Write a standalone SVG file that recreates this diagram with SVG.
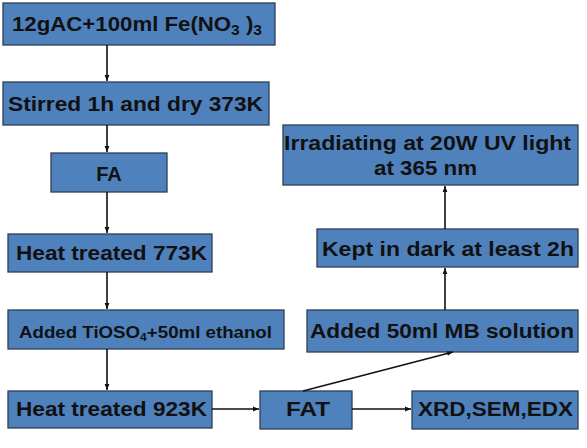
<svg xmlns="http://www.w3.org/2000/svg" width="587" height="448" viewBox="0 0 587 448">
<defs>
<marker id="ah" viewBox="0 0 10 10" refX="10" refY="5" markerWidth="6" markerHeight="6" orient="auto" markerUnits="userSpaceOnUse">
<path d="M0,1 L10,5 L0,9 z" fill="#111"/>
</marker>
<style>
.box{fill:#4F81BD;stroke:#2d3f55;stroke-width:1.3}
.t{font-family:"Liberation Sans",Arial,sans-serif;font-weight:bold;font-size:20px;fill:#111}
.s{font-size:14px}
.c{fill:none;stroke:#111;stroke-width:1.6;marker-end:url(#ah)}
</style>
</defs>
<rect width="587" height="448" fill="#fff"/>
<g id="n1"><rect class="box" x="3" y="3" width="272" height="42"/>
<text class="t" x="12" y="31" textLength="250" lengthAdjust="spacingAndGlyphs">12gAC+100ml Fe(NO<tspan class="s" dy="4">3</tspan><tspan dy="-4"> )</tspan><tspan class="s" dy="4">3</tspan></text></g>
<g id="n2"><rect class="box" x="3" y="82" width="266" height="43"/>
<text class="t" x="8" y="111" textLength="255" lengthAdjust="spacingAndGlyphs">Stirred 1h and dry 373K</text></g>
<g id="n3"><rect class="box" x="51" y="153" width="116" height="39"/>
<text class="t" x="109" y="181" text-anchor="middle">FA</text></g>
<g id="n4"><rect class="box" x="8" y="234" width="204" height="38"/>
<text class="t" x="16" y="260" textLength="191" lengthAdjust="spacingAndGlyphs">Heat treated 773K</text></g>
<g id="n5"><rect class="box" x="8" y="310" width="276" height="39"/>
<text class="t" style="font-size:17px" x="19" y="338" textLength="253" lengthAdjust="spacingAndGlyphs">Added TiOSO<tspan style="font-size:11px" dy="3">4</tspan><tspan dy="-3">+50ml  ethanol</tspan></text></g>
<g id="n6"><rect class="box" x="8" y="391" width="204" height="37"/>
<text class="t" x="16" y="416" textLength="191" lengthAdjust="spacingAndGlyphs">Heat treated 923K</text></g>
<g id="n7"><rect class="box" x="260" y="391" width="92" height="38"/>
<text class="t" x="286" y="416" textLength="44" lengthAdjust="spacingAndGlyphs">FAT</text></g>
<g id="n8"><rect class="box" x="412" y="391" width="166" height="38"/>
<text class="t" x="418" y="416" textLength="155" lengthAdjust="spacingAndGlyphs">XRD,SEM,EDX</text></g>
<g id="n9"><rect class="box" x="307" y="310" width="271" height="42"/>
<text class="t" x="310" y="338" textLength="264" lengthAdjust="spacingAndGlyphs">Added 50ml MB solution</text></g>
<g id="n10"><rect class="box" x="317" y="229" width="261" height="38"/>
<text class="t" x="322" y="256" textLength="252" lengthAdjust="spacingAndGlyphs">Kept in dark at least 2h</text></g>
<g id="n11"><rect class="box" x="283" y="125" width="295" height="60"/>
<text class="t" x="284" y="150" textLength="287" lengthAdjust="spacingAndGlyphs">Irradiating at 20W UV light</text>
<text class="t" x="374" y="175" textLength="103" lengthAdjust="spacingAndGlyphs">at 365 nm</text></g>
<g id="connectors">
<path class="c" d="M107,45 V81"/>
<path class="c" d="M107,125 V152"/>
<path class="c" d="M107,192 V233"/>
<path class="c" d="M107,272 V309"/>
<path class="c" d="M107,349 V390"/>
<path class="c" d="M212,409 H259"/>
<path class="c" d="M352,409 H411"/>
<path class="c" d="M303,391 L453,352"/>
<path class="c" d="M445,310 V268"/>
<path class="c" d="M445,229 V186"/>
</g>
</svg>
